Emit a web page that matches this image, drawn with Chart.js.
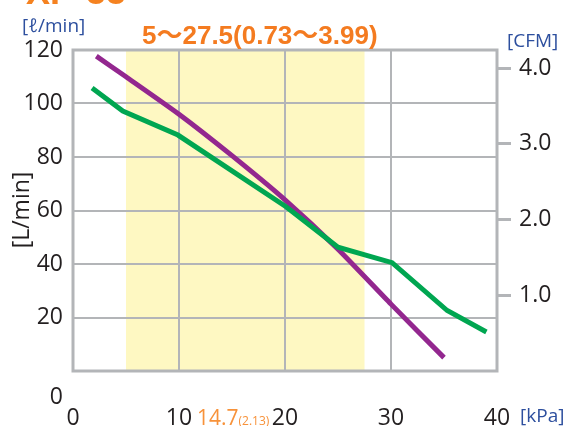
<!DOCTYPE html>
<html>
<head>
<meta charset="utf-8">
<script src="https://cdn.jsdelivr.net/npm/chart.js@4"></script>
<style>
  body { margin: 0; background: #fff; }
  #wrap { width: 566px; height: 426px; position: relative; }
</style>
</head>
<body>
<div id="wrap"><canvas id="chart"></canvas></div>
<script>
// pressure [kPa] vs flow [L/min]
const greenKpa  = [1.8, 4.7, 9.9, 20.1, 25, 30.1, 35.3, 39];
const greenFlow = [105.8, 97.2, 88.2, 61.4, 46.3, 40.5, 22.6, 14.6];
const purpleKpa  = [2.2, 5, 10, 15, 20, 25, 30, 35];
const purpleFlow = [117.7, 110, 96, 80.5, 64, 45.5, 25, 5];

const xTicks = [0, 10, 20, 30, 40];
const yTicks = [0, 20, 40, 60, 80, 100, 120];
const cfmTicks = [1, 2, 3, 4];
const LPM_PER_CFM = 28.3168;

const rangeKpa = [5, 27.5];
const rangeTitle = '5～27.5(0.73～3.99)';
const markKpa = '14.7';
const markCfm = '(2.13)';

const gridColor = '#b3b5b8';
const tickFont = { family: 'Open Sans', size: 23 };
const textColor = '#231f20';
const blue = '#2d4f9e';

const decor = {
  id: 'decor',
  beforeDraw(chart) {
    const { ctx, chartArea: a, scales: { x } } = chart;
    ctx.save();
    ctx.fillStyle = '#fef8c2';
    const x1 = x.getPixelForValue(rangeKpa[0]);
    const x2 = x.getPixelForValue(rangeKpa[1]);
    ctx.fillRect(x1, a.top, x2 - x1, a.bottom - a.top);
    ctx.restore();
  },
  beforeDatasetsDraw(chart) {
    const { ctx, chartArea: a } = chart;
    ctx.save();
    ctx.strokeStyle = gridColor;
    ctx.lineWidth = 3;
    ctx.strokeRect(a.left, a.top, a.right - a.left, a.bottom - a.top);
    ctx.restore();
  },
  afterDraw(chart) {
    const { ctx } = chart;
    ctx.save();
    // cut-off model name at the very top
    ctx.fillStyle = '#f58220';
    ctx.font = 'bold 36px "Liberation Sans"';
    ctx.textBaseline = 'alphabetic';
    ctx.fillText('XP-55', 26, 4);

    ctx.font = 'bold 26px "Liberation Sans", "Noto Sans CJK JP"';
    ctx.fillStyle = '#f47b20';
    ctx.fillText(rangeTitle, 142, 44);

    ctx.fillStyle = blue;
    ctx.font = '19px "Open Sans", "DejaVu Sans"';
    ctx.fillText('[ℓ/min]', 22, 32);
    ctx.fillText('[CFM]', 507, 47);
    ctx.fillText('[kPa]', 520, 422);

    ctx.fillStyle = textColor;
    ctx.font = '23px "Open Sans"';
    ctx.textAlign = 'right';
    ctx.textBaseline = 'middle';
    ctx.fillText('0', 63, 397);

    ctx.save();
    ctx.translate(22, 210);
    ctx.rotate(-Math.PI / 2);
    ctx.textAlign = 'center';
    ctx.fillText('[L/min]', 0, 0);
    ctx.restore();

    // operating point mark
    ctx.textAlign = 'left';
    ctx.textBaseline = 'alphabetic';
    ctx.fillStyle = '#f7923a';
    ctx.font = '21px "Open Sans"';
    ctx.fillText(markKpa, 197, 425);
    const w = ctx.measureText(markKpa).width;
    ctx.font = '12px "Open Sans"';
    ctx.fillText(markCfm, 197 + w, 425);
    ctx.restore();
  }
};

new Chart(document.getElementById('chart'), {
  type: 'line',
  data: {
    datasets: [{
      label: 'green',
      data: greenKpa.map((v, i) => ({ x: v, y: greenFlow[i] })),
      borderColor: '#00a651',
      borderWidth: 5,
      pointRadius: 0,
      yAxisID: 'y'
    }, {
      label: 'purple',
      data: purpleKpa.map((v, i) => ({ x: v, y: purpleFlow[i] })),
      borderColor: '#93278f',
      borderWidth: 5,
      pointRadius: 0,
      tension: 0.2,
      yAxisID: 'y'
    }]
  },
  options: {
    responsive: true,
    maintainAspectRatio: false,
    animation: false,
    events: [],
    layout: { padding: { top: 50 } },
    plugins: { legend: { display: false }, tooltip: { enabled: false } },
    scales: {
      x: {
        type: 'linear', min: 0, max: 40,
        afterBuildTicks: s => { s.ticks = xTicks.map(v => ({ value: v })); },
        afterFit: s => { s.height = 55; },
        border: { display: false },
        grid: { color: gridColor, lineWidth: 2, drawTicks: false },
        ticks: { font: tickFont, color: textColor, padding: 34, maxRotation: 0 }
      },
      y: {
        min: 0, max: 120,
        afterBuildTicks: s => { s.ticks = yTicks.map(v => ({ value: v })); },
        afterFit: s => { s.width = 73; },
        border: { display: false },
        grid: { color: gridColor, lineWidth: 2, drawTicks: false },
        ticks: { font: tickFont, color: textColor, padding: 10, callback: v => v === 0 ? '' : v }
      },
      y2: {
        position: 'right',
        min: 0, max: 120 / LPM_PER_CFM,
        afterBuildTicks: s => { s.ticks = cfmTicks.map(v => ({ value: v })); },
        afterFit: s => { s.width = 69; },
        border: { display: false },
        grid: { drawOnChartArea: false, drawTicks: true, tickLength: 14, tickWidth: 3, tickColor: gridColor },
        ticks: { font: tickFont, color: textColor, padding: 8, callback: v => v.toFixed(1) }
      }
    }
  },
  plugins: [decor]
});
</script>
</body>
</html>
